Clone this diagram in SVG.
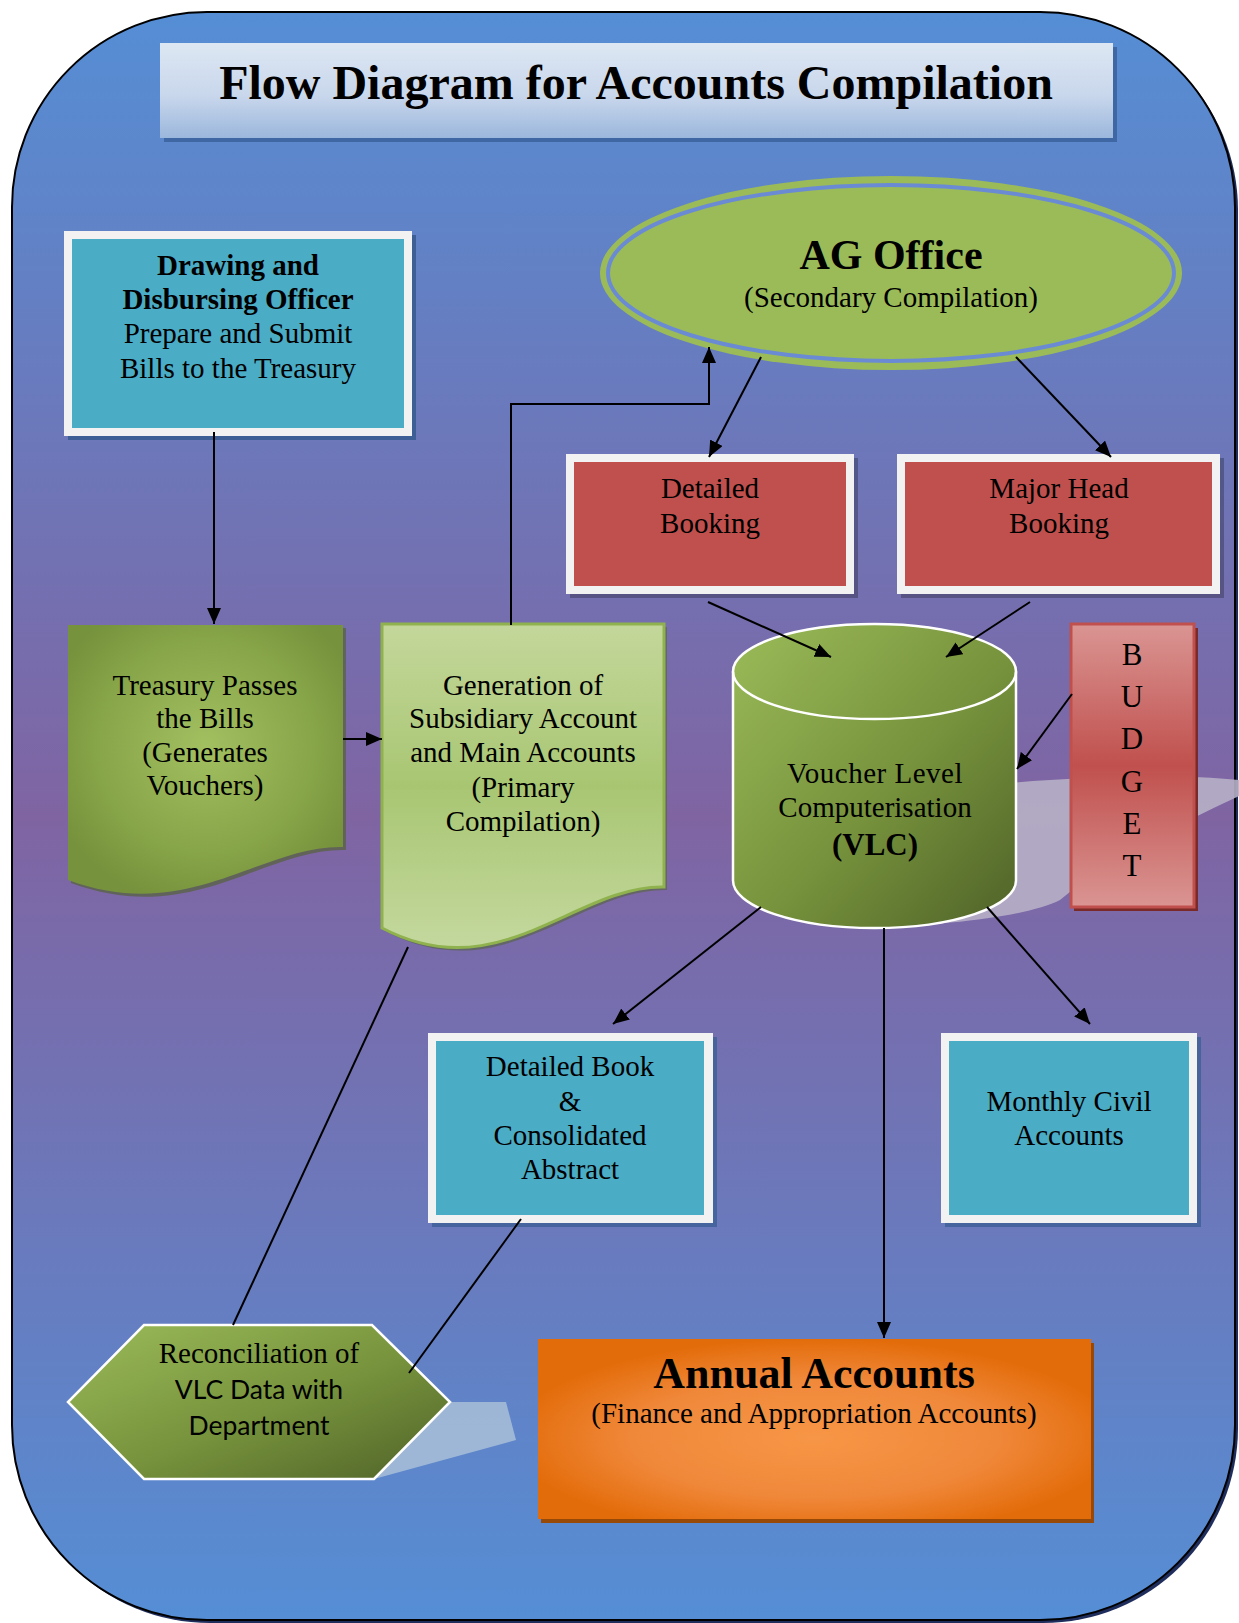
<svg xmlns="http://www.w3.org/2000/svg" width="1239" height="1623" viewBox="0 0 1239 1623">
<style>
.t{font-family:"Liberation Serif","Times New Roman",serif;font-size:29px;text-anchor:middle;fill:#000}
.b{font-weight:bold}
.s{font-family:Lato,"Liberation Sans",sans-serif;font-size:26.5px;text-anchor:middle;fill:#000}
.ln{stroke:#000;stroke-width:2;fill:none}
.arr{marker-end:url(#ah)}
.frame{fill:#f2f2f2}
.teal{fill:#4bacc6}
.red{fill:#c0504d}
.shd{fill:#000;opacity:0.25}
.bl{font-size:31px}
</style>
<defs>
<marker id="ah" markerUnits="userSpaceOnUse" markerWidth="16" markerHeight="14" refX="16" refY="7" orient="auto">
<path d="M0,0 L16,7 L0,14 Z" fill="#000"/>
</marker>
<linearGradient id="bg" x1="0" y1="0" x2="0" y2="1">
<stop offset="0" stop-color="#558ed5"/>
<stop offset="0.5" stop-color="#8064a2"/>
<stop offset="1" stop-color="#558ed5"/>
</linearGradient>
<linearGradient id="titleG" x1="0" y1="0" x2="0" y2="1">
<stop offset="0" stop-color="#dde7f3"/>
<stop offset="0.55" stop-color="#c9d7ec"/>
<stop offset="1" stop-color="#9bb7dc"/>
</linearGradient>
<radialGradient id="treasG" cx="0.5" cy="0.45" r="0.6">
<stop offset="0" stop-color="#a2c060"/>
<stop offset="0.6" stop-color="#8aa84b"/>
<stop offset="1" stop-color="#76923c"/>
</radialGradient>
<linearGradient id="genG" x1="0" y1="0" x2="0" y2="1">
<stop offset="0" stop-color="#c4d79b"/>
<stop offset="0.5" stop-color="#a8c672"/>
<stop offset="1" stop-color="#c4d89e"/>
</linearGradient>
<linearGradient id="darkG" x1="0" y1="0" x2="1" y2="1">
<stop offset="0" stop-color="#9bbb59"/>
<stop offset="0.55" stop-color="#76923c"/>
<stop offset="1" stop-color="#4f6228"/>
</linearGradient>
<linearGradient id="budG" x1="0" y1="0" x2="0" y2="1">
<stop offset="0" stop-color="#da9593"/>
<stop offset="0.5" stop-color="#c0504d"/>
<stop offset="1" stop-color="#da9593"/>
</linearGradient>
<radialGradient id="annG" cx="0.5" cy="0.55" r="0.55">
<stop offset="0" stop-color="#f79646"/>
<stop offset="0.6" stop-color="#f0883a"/>
<stop offset="1" stop-color="#e36c0a"/>
</radialGradient>
</defs>

<g id="background">
<rect x="15" y="15" width="1223" height="1608" rx="195" ry="195" fill="#1f2d5c"/>
<rect x="12" y="12" width="1223" height="1608" rx="195" ry="195" fill="url(#bg)" stroke="#000" stroke-width="2"/>
</g>

<g id="title">
<rect x="164" y="47" width="953" height="95" fill="#3e67a3"/>
<rect x="160" y="43" width="953" height="95" fill="url(#titleG)"/>
<text class="t b" x="636" y="99" style="font-size:48px">Flow Diagram for Accounts Compilation</text>
</g>

<g id="vlc-shadow">
<path d="M1000,784 C1080,776 1180,774 1239,780 L1239,796 C1200,815 1120,850 1060,900 C1030,915 960,925 860,928 L1000,880 Z" fill="#b7b0c6" opacity="0.9"/>
</g>

<g id="ddo">
<rect x="68" y="235" width="348" height="205" fill="#3d5f96"/>
<rect x="64" y="231" width="348" height="205" class="frame"/>
<rect x="72" y="239" width="332" height="189" class="teal"/>
<text class="t b" x="238" y="275">Drawing and</text>
<text class="t b" x="238" y="309">Disbursing Officer</text>
<text class="t" x="238" y="343">Prepare and Submit</text>
<text class="t" x="238" y="378">Bills to the Treasury</text>
</g>

<g id="ag-office">
<ellipse cx="891" cy="273" rx="291" ry="97" fill="#9bbb59"/>
<ellipse cx="891" cy="273" rx="283" ry="88" fill="none" stroke="#6a8bd3" stroke-width="4"/>
<text class="t b" x="891" y="269" style="font-size:42px">AG Office</text>
<text class="t" x="891" y="307">(Secondary Compilation)</text>
</g>

<g id="detailed-booking">
<rect x="570" y="458" width="288" height="140" class="shd"/>
<rect x="566" y="454" width="288" height="140" class="frame"/>
<rect x="574" y="462" width="272" height="124" class="red"/>
<text class="t" x="710" y="498">Detailed</text>
<text class="t" x="710" y="533">Booking</text>
</g>

<g id="major-head-booking">
<rect x="901" y="458" width="323" height="140" class="shd"/>
<rect x="897" y="454" width="323" height="140" class="frame"/>
<rect x="905" y="462" width="307" height="124" class="red"/>
<text class="t" x="1059" y="498">Major Head</text>
<text class="t" x="1059" y="533">Booking</text>
</g>

<g id="treasury">
<path d="M71,628 H346 V850 C263,848 193,928 71,883 Z" fill="#4e6128" opacity="0.6"/>
<path d="M68,625 H343 V847 C260,845 190,925 68,880 Z" fill="url(#treasG)"/>
<text class="t" x="205" y="695">Treasury Passes</text>
<text class="t" x="205" y="728">the Bills</text>
<text class="t" x="205" y="762">(Generates</text>
<text class="t" x="205" y="795">Vouchers)</text>
</g>

<g id="generation">
<path d="M385,627 H667 V890 C578,888 503,993 385,931 Z" fill="#4e6128" opacity="0.5"/>
<path d="M382,624 H664 V887 C575,885 500,990 382,928 Z" fill="url(#genG)" stroke="#8fb24e" stroke-width="3"/>
<text class="t" x="523" y="695">Generation of</text>
<text class="t" x="523" y="728">Subsidiary Account</text>
<text class="t" x="523" y="762">and Main Accounts</text>
<text class="t" x="523" y="797">(Primary</text>
<text class="t" x="523" y="831">Compilation)</text>
</g>

<g id="vlc">
<path d="M733,671.5 V880.5 A141.5,47.5 0 0 0 1016,880.5 V671.5 A141.5,47.5 0 0 0 733,671.5 Z" fill="url(#darkG)" stroke="#fff" stroke-width="2.5"/>
<path d="M733,671.5 A141.5,47.5 0 0 0 1016,671.5" fill="none" stroke="#fff" stroke-width="2.5"/>
<text class="t" x="875" y="783" letter-spacing="0.5">Voucher Level</text>
<text class="t" x="875" y="817">Computerisation</text>
<text class="t b bl" x="875" y="855">(VLC)</text>
</g>

<g id="budget">
<rect x="1074" y="628" width="124" height="283" fill="#7a2a28"/>
<rect x="1071" y="624" width="123" height="283" fill="url(#budG)" stroke="#c0504d" stroke-width="3"/>
<text class="t bl" x="1132" y="665">B</text>
<text class="t bl" x="1132" y="707">U</text>
<text class="t bl" x="1132" y="749">D</text>
<text class="t bl" x="1132" y="792">G</text>
<text class="t bl" x="1132" y="834">E</text>
<text class="t bl" x="1132" y="876">T</text>
</g>

<g id="detailed-book">
<rect x="432" y="1037" width="285" height="190" fill="#3d5f96" opacity="0.8"/>
<rect x="428" y="1033" width="285" height="190" class="frame"/>
<rect x="436" y="1041" width="268" height="174" class="teal"/>
<text class="t" x="570" y="1076">Detailed Book</text>
<text class="t" x="570" y="1111">&amp;</text>
<text class="t" x="570" y="1145">Consolidated</text>
<text class="t" x="570" y="1179">Abstract</text>
</g>

<g id="monthly-civil">
<rect x="945" y="1037" width="256" height="190" fill="#3d5f96" opacity="0.8"/>
<rect x="941" y="1033" width="256" height="190" class="frame"/>
<rect x="949" y="1041" width="240" height="174" class="teal"/>
<text class="t" x="1069" y="1111">Monthly Civil</text>
<text class="t" x="1069" y="1145">Accounts</text>
</g>

<g id="reconciliation">
<path d="M450,1402 L506,1402 L516,1440 L374,1479 Z" fill="#a9c0d8" opacity="0.85"/>
<path d="M144,1325 L372,1325 L450,1402 L374,1479 L144,1479 L68,1402 Z" fill="url(#darkG)" stroke="#fff" stroke-width="2.5"/>
<text class="t" x="259" y="1363">Reconciliation of</text>
<text class="s" x="259" y="1399">VLC Data with</text>
<text class="s" x="259" y="1435">Department</text>
</g>

<g id="annual-accounts">
<rect x="541" y="1343" width="553" height="180" fill="#984807"/>
<rect x="538" y="1339" width="553" height="180" fill="url(#annG)"/>
<text class="t b" x="814" y="1388" style="font-size:44px">Annual Accounts</text>
<text class="t" x="814" y="1423">(Finance and Appropriation Accounts)</text>
</g>

<g id="connectors">
<path class="ln arr" d="M214,432 V624"/>
<path class="ln arr" d="M343,739 H382"/>
<path class="ln arr" d="M511,625 V404 H709 V347"/>
<path class="ln arr" d="M761,357 L709,457"/>
<path class="ln arr" d="M1016,357 L1111,457"/>
<path class="ln arr" d="M708,602 L831,657"/>
<path class="ln arr" d="M1030,602 L946,657"/>
<path class="ln arr" d="M1072,694 L1017,769"/>
<path class="ln arr" d="M761,907 L613,1024"/>
<path class="ln arr" d="M884,928 V1338"/>
<path class="ln arr" d="M987,907 L1090,1024"/>
<path class="ln" d="M408,947 L233,1325"/>
<path class="ln" d="M521,1219 L409,1373"/>
</g>
</svg>
